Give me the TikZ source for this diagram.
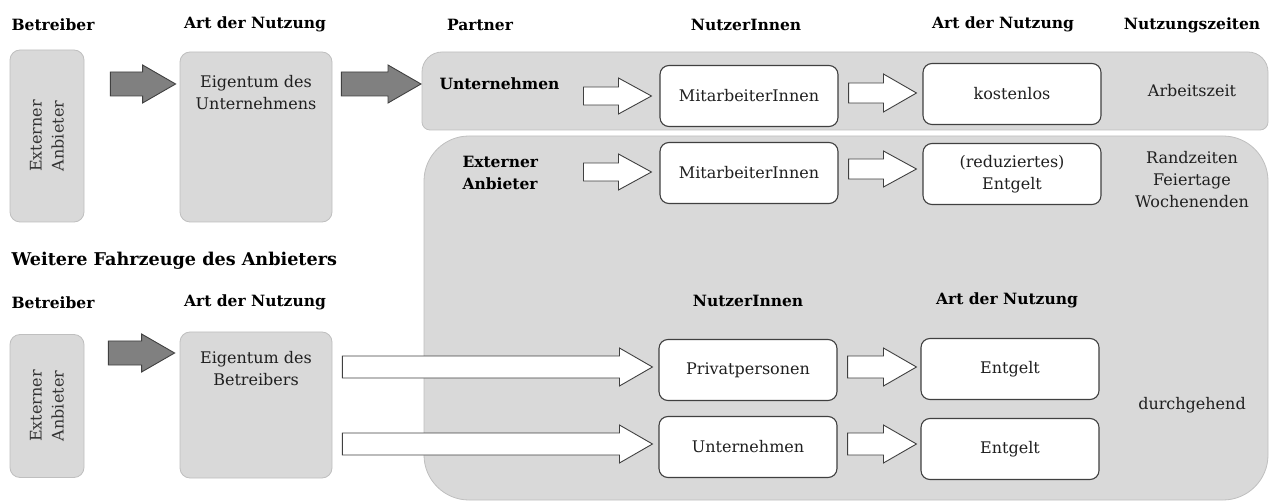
\documentclass[tikz,border=0pt]{standalone}
\usepackage{fontspec}
\setmainfont{DejaVu Serif}
\usetikzlibrary{calc}
\definecolor{boxgray}{HTML}{D9D9D9}
\definecolor{boxline}{HTML}{BFBFBF}
\definecolor{arrowgray}{HTML}{808080}
\definecolor{ink}{HTML}{1F1F1F}
% block arrow from #2 to #3 (same height as #2), shaft half width #4, head half width #5
\newcommand\blockarrow[5]{%
  \draw[#1] let \p1=#2, \p2=#3 in
    (\x1,\y1+#4) -- (\x2-33pt,\y1+#4) -- (\x2-33pt,\y1+#5) -- (\x2,\y1)
    -- (\x2-33pt,\y1-#5) -- (\x2-33pt,\y1-#4) -- (\x1,\y1-#4) -- cycle;}
\begin{document}
\begin{tikzpicture}[x=1pt,y=-1pt,
  every node/.style={text=ink,font=\fontsize{16}{22}\selectfont},
  head/.style={font=\fontsize{15.5}{22}\selectfont\bfseries,text=black},
  graybox/.style={draw=boxline,fill=boxgray,rounded corners=10pt,line width=0.8pt},
  wbox/.style={draw=black!75,fill=white,rounded corners=9pt,line width=1.1pt,
    minimum width=178pt,minimum height=61pt,align=center},
  grayarrow/.style={draw=black!75,fill=arrowgray,line width=0.9pt},
  whitearrow/.style={draw=black!75,fill=white,line width=0.9pt},
  band/.style={draw=boxline,fill=boxgray,line width=0.8pt}]
\useasboundingbox (0,0) rectangle (1271,502);

% partner areas
\draw[band] (422,92) [rounded corners=20pt] -- (422,52) -- (1268,52) [rounded corners=8pt] -- (1268,130) -- (422,130) -- cycle;
\draw[band,rounded corners=45pt] (424,136) rectangle (1268,500);

% column headings
\node[head] (hb1) at (53,25) {Betreiber};
\node[head] (ha1) at (255,24) {Art der Nutzung};
\node[head] (hp) at (480,25) {Partner};
\node[head] (hn1) at (746,25) {NutzerInnen};
\node[head] (ha2) at (1003,24) {Art der Nutzung};
\node[head] (hz) at (1192,25) {Nutzungszeiten};

% upper row
\node[graybox,minimum width=74pt,minimum height=172pt] (ext1) at (47,136) {};
\node[rotate=90,align=center,text=black!80] (ext1t) at (ext1) {Externer\\Anbieter};
\node[graybox,minimum width=152pt,minimum height=170pt] (own1) at (256,137) {};
\node[align=center] (own1t) at ([yshift=-41pt]own1.north) {Eigentum des\\Unternehmens};

\node[head,anchor=west] (pu) at (436,84) {Unternehmen};
\node[head,align=left,anchor=west] (pe) at (459,173) {Externer\\Anbieter};

\node[wbox] (m1) at (749,96) {MitarbeiterInnen};
\node[wbox] (k1) at (1012,94) {kostenlos};
\node[wbox] (m2) at (749,173) {MitarbeiterInnen};
\node[wbox] (r2) at (1012,174) {(reduziertes)\\Entgelt};
\node (z1) at (1192,91) {Arbeitszeit};
\node[align=center] (z2) at (1192,180) {Randzeiten\\Feiertage\\Wochenenden};

\blockarrow{grayarrow}{([xshift=26pt,yshift=52pt]ext1.east)}{([xshift=-4pt]own1.west)}{12pt}{19pt}
\blockarrow{grayarrow}{([xshift=9pt,yshift=53pt]own1.east)}{([xshift=-15pt]pu.west)}{12pt}{19pt}
\blockarrow{whitearrow}{([xshift=-76pt]m1.west)}{([xshift=-8pt]m1.west)}{9pt}{18pt}
\blockarrow{whitearrow}{([xshift=-76pt,yshift=1pt]m2.west)}{([xshift=-8pt]m2.west)}{9pt}{18pt}
\blockarrow{whitearrow}{([xshift=10pt,yshift=3pt]m1.east)}{([xshift=-6pt]k1.west)}{10pt}{19pt}
\blockarrow{whitearrow}{([xshift=10pt,yshift=4pt]m2.east)}{([xshift=-6pt]r2.west)}{10pt}{18pt}

% further vehicles of the provider
\node[font=\fontsize{17.6}{21}\selectfont\bfseries,text=black,anchor=west] (hw) at (8,261) {Weitere Fahrzeuge des Anbieters};
\node[head] (hb2) at (53,303) {Betreiber};
\node[head] (ha3) at (255,302) {Art der Nutzung};
\node[head] (hn2) at (748,301) {NutzerInnen};
\node[head] (ha4) at (1007,300) {Art der Nutzung};

\node[graybox,minimum width=74pt,minimum height=143pt] (ext2) at (47,406) {};
\node[rotate=90,align=center,text=black!80] (ext2t) at (ext2) {Externer\\Anbieter};
\node[graybox,minimum width=152pt,minimum height=146pt] (own2) at (256,405) {};
\node[align=center] (own2t) at ([yshift=-37pt]own2.north) {Eigentum des\\Betreibers};

\node[wbox] (p3) at (748,370) {Privatpersonen};
\node[wbox] (e3) at (1010,369) {Entgelt};
\node[wbox] (u4) at (748,447) {Unternehmen};
\node[wbox] (e4) at (1010,449) {Entgelt};
\node (z3) at (1192,405) {durchgehend};

\blockarrow{grayarrow}{([xshift=24pt,yshift=53pt]ext2.east)}{([xshift=-5pt]own2.west)}{12pt}{19pt}
\blockarrow{whitearrow}{([xshift=10pt,yshift=3pt]own2.east |- p3)}{([xshift=-6pt]p3.west)}{11pt}{19pt}
\blockarrow{whitearrow}{([xshift=10pt,yshift=3pt]own2.east |- u4)}{([xshift=-6pt]u4.west)}{11pt}{19pt}
\blockarrow{whitearrow}{([xshift=10pt,yshift=3pt]p3.east)}{([xshift=-4pt]e3.west)}{11pt}{19pt}
\blockarrow{whitearrow}{([xshift=10pt,yshift=3pt]u4.east)}{([xshift=-4pt]e4.west)}{11pt}{19pt}
\end{tikzpicture}
\end{document}
